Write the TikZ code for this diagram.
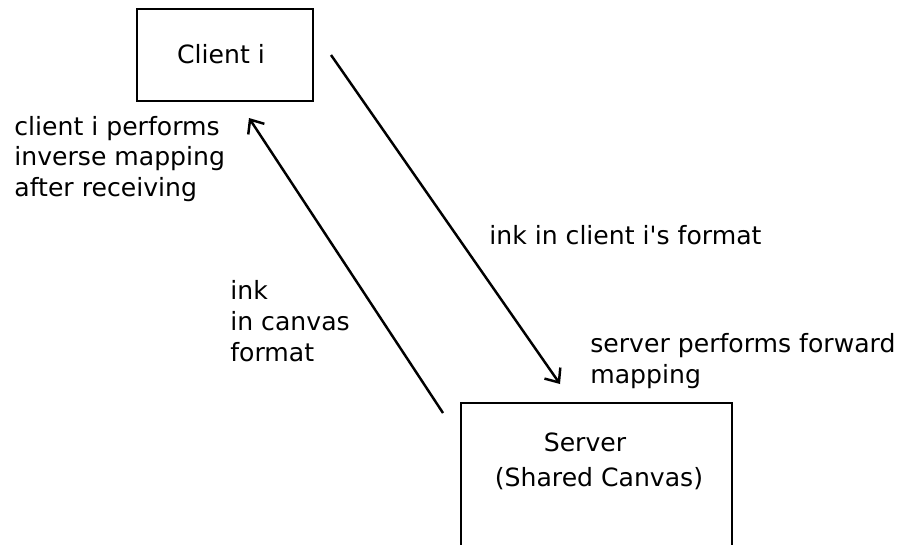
\documentclass[tikz,border=0pt]{standalone}
\usepackage{fontspec}
\setmainfont{DejaVu Sans}
\usetikzlibrary{arrows.meta, positioning}

\begin{document}
\begin{tikzpicture}[
        x=0.02cm, y=-0.02cm,
        >={Straight Barb[length=6.5pt, width=11pt]},
        font=\fontsize{14.3}{17.6}\selectfont,
        box/.style={draw=black, line width=1.4pt, inner sep=0pt},
        msg/.style={->, line width=1.4pt},
        note/.style={align=left, anchor=west, inner sep=0pt}
    ]

    \useasboundingbox (0,0) rectangle (898,544);
    \clip (0,0) rectangle (898,544);

    % boxes
    \node[box, minimum width=3.52cm, minimum height=1.84cm] (client) at (225,55) {};
    \node[anchor=center] (clientname) at (221,54) {Client i};

    \node[box, minimum width=5.42cm, minimum height=3.6cm] (server) at (596.5,493) {};
    \node (servername) at (585,442) {Server};
    \node (servercanvas) at (599,479) {(Shared Canvas)};

    % arrow ends
    \coordinate (fwdstart) at (331,55);
    \coordinate (fwdend) at (560,384);
    \coordinate (backstart) at (443,413);
    \coordinate (backend) at (249,118);

    \draw[msg] (fwdstart) -- (fwdend);
    \draw[msg] (backstart) -- (backend);

    % notes
    \node[note] (inverse) at (14,159) {client i performs\\inverse mapping\\after receiving};
    \node[note] (clientfmt) at (489,235) {ink in client i\textquotesingle s format};
    \node[note] (canvasfmt) at (230,321) {ink\\in canvas\\format};
    \node[note] (forward) at (590,361) {server performs forward\\mapping};

\end{tikzpicture}
\end{document}
